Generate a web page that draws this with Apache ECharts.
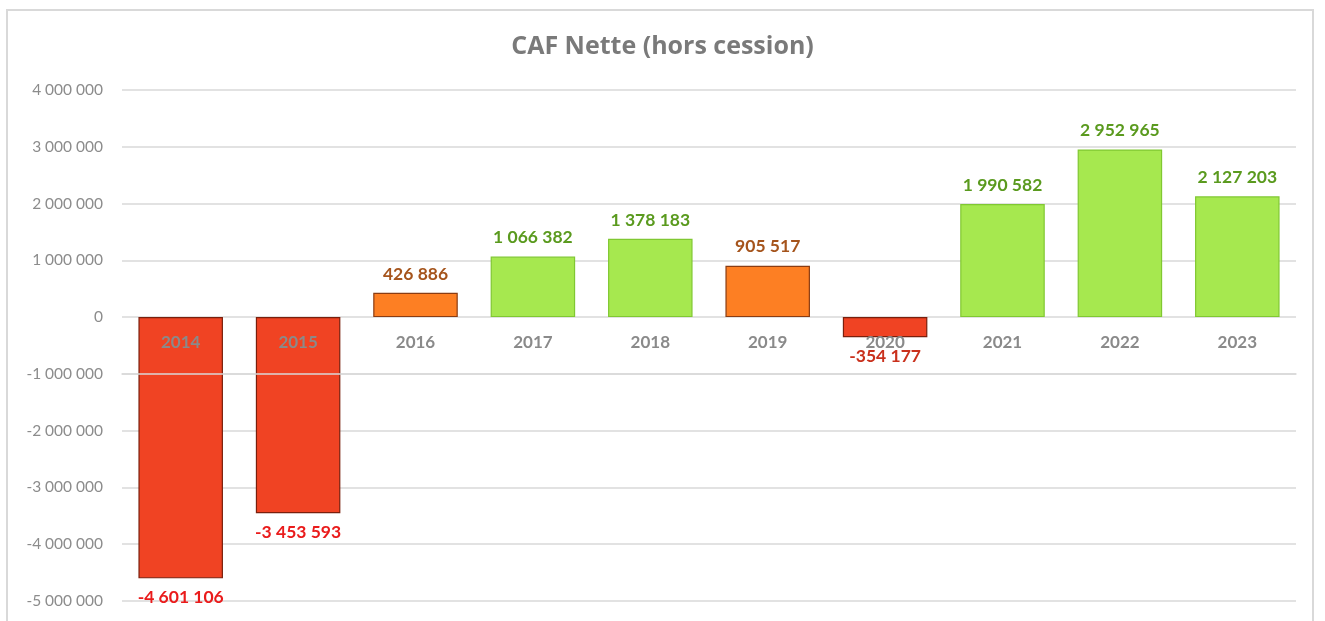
<!DOCTYPE html>
<html><head><meta charset="utf-8">
<script src="https://cdn.jsdelivr.net/npm/echarts@6/dist/echarts.min.js"></script>
<style>html,body{margin:0;padding:0;background:#fff}#c{width:1325px;height:621px}</style>
</head><body><div id="c"></div>
<script>
const categories = ['2014','2015','2016','2017','2018','2019','2020','2021','2022','2023'];
const values = [-4601106, -3453593, 426886, 1066382, 1378183, 905517, -354177, 1990582, 2952965, 2127203];
const titleText = 'CAF Nette (hors cession)';

function fmt(v){
  const s = Math.abs(v).toString().replace(/\B(?=(\d{3})+(?!\d))/g, ' ');
  return (v < 0 ? '-' : '') + s;
}
function styleFor(v){
  if (v < 0) return {fill:'#f04323', border:'#7a1f0c', label: v < -1000000 ? '#ea1b1b' : '#c9301c'};
  if (v < 1000000) return {fill:'#fd7f23', border:'#8a3c12', label:'#a5541c'};
  return {fill:'#a6e84f', border:'#80c832', label:'#5a9a1e'};
}
const seriesData = values.map(v => {
  const s = styleFor(v);
  return {
    value: v,
    itemStyle: {color: s.fill, borderColor: s.border, borderWidth: 1.2},
    label: {position: v < 0 ? 'bottom' : 'top', color: s.label}
  };
});

const chart = echarts.init(document.getElementById('c'), null, {renderer:'canvas'});
const option = {
  animation: false,
  backgroundColor: '#fff',
  graphic: [{
    type: 'rect', silent: true, z: -10,
    shape: {x: 7, y: 10, width: 1306, height: 700},
    style: {fill: '#fff', stroke: '#d9d9d9', lineWidth: 2}
  }],
  title: {
    text: titleText, left: 'center', top: 29,
    textStyle: {fontFamily: 'Open Sans', fontSize: 25, fontWeight: 'bold', color: '#7a7a7a'}
  },
  grid: {left: 122, right: 29, top: 90, bottom: 20, containLabel: false, outerBoundsMode: 'none'},
  xAxis: {
    type: 'category', data: categories,
    axisLine: {onZero: true, lineStyle: {color: '#d9d9d9', width: 1.5}},
    axisTick: {show: false},
    axisLabel: {margin: 17, fontFamily: 'Lato', fontSize: 17, fontWeight: 'bold', color: '#8a8a8a'},
    z: 5
  },
  yAxis: {
    type: 'value', min: -5000000, max: 4000000, interval: 1000000,
    axisLine: {show: false}, axisTick: {show: false},
    splitLine: {lineStyle: {color: '#d9d9d9', width: 1.5}},
    axisLabel: {margin: 19, fontFamily: 'Lato', fontSize: 15.5, color: '#8c8c8c', formatter: v => fmt(v)}
  },
  series: [{
    type: 'bar', data: seriesData, barWidth: '72%',
    label: {show: true, fontFamily: 'Lato', fontSize: 17.5, fontWeight: 'bold', distance: 10, formatter: p => fmt(p.value)}
  }]
};
chart.setOption(option);
// place the category axis on the zero line (library-computed pixel position)
const zeroY = chart.convertToPixel({yAxisIndex: 0}, 0);
const bottomY = chart.convertToPixel({yAxisIndex: 0}, option.yAxis.min);
chart.setOption({xAxis: {offset: -(bottomY - zeroY)}});
</script></body></html>
